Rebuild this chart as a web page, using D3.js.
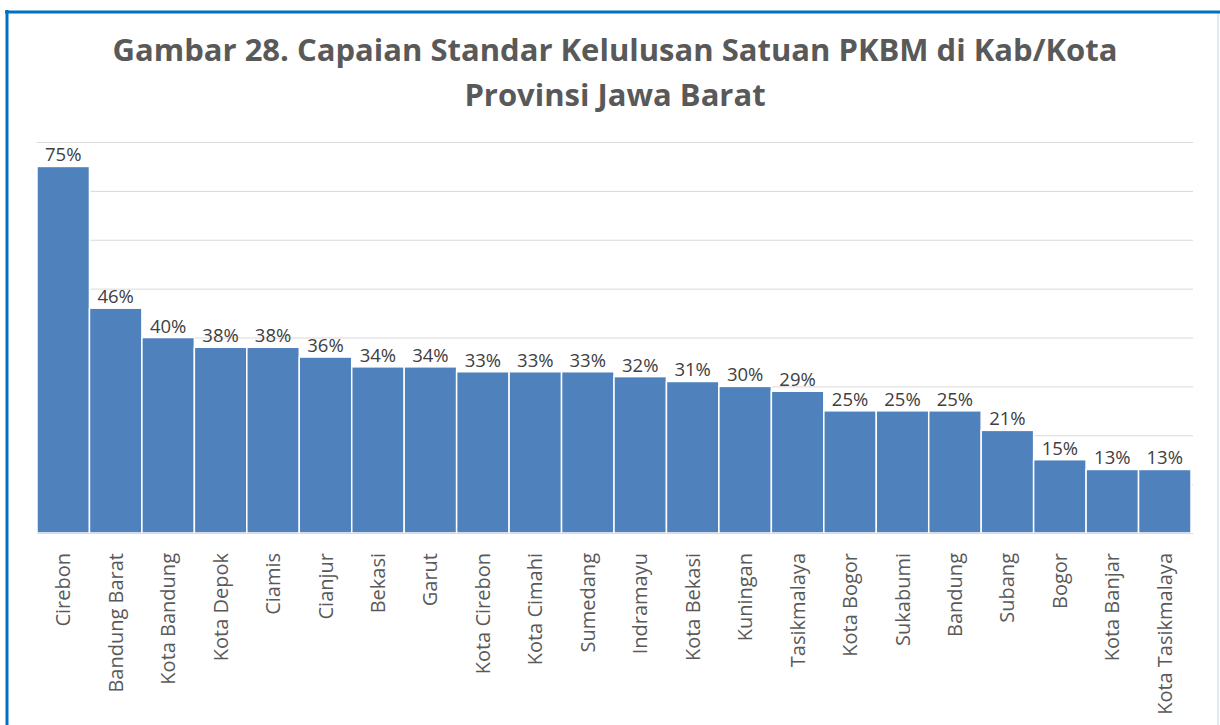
<!DOCTYPE html>
<html>
<head>
<meta charset="utf-8">
<script src="https://cdn.jsdelivr.net/npm/d3@7"></script>
<style>
  body{margin:0;background:#fff;}
  svg{display:block;}
</style>
</head>
<body>
<svg id="chart" width="1220" height="725"></svg>
<script>
// data
var categories=["Cirebon","Bandung Barat","Kota Bandung","Kota Depok","Ciamis","Cianjur","Bekasi","Garut","Kota Cirebon","Kota Cimahi","Sumedang","Indramayu","Kota Bekasi","Kuningan","Tasikmalaya","Kota Bogor","Sukabumi","Bandung","Subang","Bogor","Kota Banjar","Kota Tasikmalaya"];
var values=[0.75,0.46,0.40,0.38,0.38,0.36,0.34,0.34,0.33,0.33,0.33,0.32,0.31,0.30,0.29,0.25,0.25,0.25,0.21,0.15,0.13,0.13];
var yTicks=[0,0.1,0.2,0.3,0.4,0.5,0.6,0.7,0.8];
var titleLines=["Gambar 28. Capaian Standar Kelulusan Satuan PKBM di Kab/Kota","Provinsi Jawa Barat"];

var svg=d3.select("#chart");

// frame
svg.append("rect").attr("x",7).attr("y",12).attr("width",1211).attr("height",730)
    .attr("fill","none").attr("stroke","#bdd7ee").attr("stroke-width",1);
svg.append("line").attr("x1",5).attr("x2",1220).attr("y1",12).attr("y2",12)
    .attr("stroke","#0070c0").attr("stroke-width",3);
svg.append("line").attr("x1",7).attr("x2",7).attr("y1",10).attr("y2",725)
    .attr("stroke","#0070c0").attr("stroke-width",3);

var plotLeft=37,plotRight=1191,plotTop=142,plotBottom=533;

var x=d3.scaleBand().domain(categories).range([plotLeft,plotRight]).padding(0);
var y=d3.scaleLinear().domain([0,0.8]).range([plotBottom,plotTop]);

// title
svg.append("g").selectAll("text").data(titleLines).enter().append("text")
    .attr("x",615)
    .attr("y",function(d,i){return 61+i*45;})
    .attr("text-anchor","middle")
    .attr("font-family","'Open Sans', sans-serif")
    .attr("font-weight","bold")
    .attr("font-size","31px")
    .attr("fill","#595959")
    .text(function(d){return d;});

// gridlines
var grid=d3.axisLeft(y).tickValues(yTicks).tickSize(-(plotRight+2-plotLeft)).tickFormat("");
svg.append("g").attr("transform","translate("+plotLeft+",0)").call(grid)
    .call(function(g){
        g.select(".domain").remove();
        g.selectAll("line").attr("stroke","#d9d9d9").attr("stroke-width",1);
    });

// bars
svg.append("g").selectAll("rect").data(values).enter().append("rect")
    .attr("x",function(d,i){return x(categories[i]);})
    .attr("y",function(d){return y(d);})
    .attr("width",x.bandwidth())
    .attr("height",function(d){return y(0)-y(d);})
    .attr("fill","#4f81bd")
    .attr("stroke","#ffffff")
    .attr("stroke-width",1.5);

// value labels
var fmt=d3.format(".0%");
svg.append("g").selectAll("text").data(values).enter().append("text")
    .attr("x",function(d,i){return x(categories[i])+x.bandwidth()/2;})
    .attr("y",function(d){return y(d)-5;})
    .attr("text-anchor","middle")
    .attr("font-family","'Open Sans', sans-serif")
    .attr("font-size","18.5px")
    .attr("fill","#404040")
    .text(function(d){return fmt(d);});

// x axis
var xAxis=d3.axisBottom(x).tickSize(0).tickPadding(0);
svg.append("g").attr("transform","translate(0,"+plotBottom+")").call(xAxis)
    .call(function(g){
        g.select(".domain").attr("stroke","#d9d9d9");
        g.selectAll("text")
            .attr("font-family","'Open Sans', sans-serif")
            .attr("font-size","20px")
            .attr("fill","#595959")
            .attr("text-anchor","end")
            .attr("dy","0.35em")
            .attr("transform","translate(0,20) rotate(-90)");
    });
</script>
</body>
</html>
